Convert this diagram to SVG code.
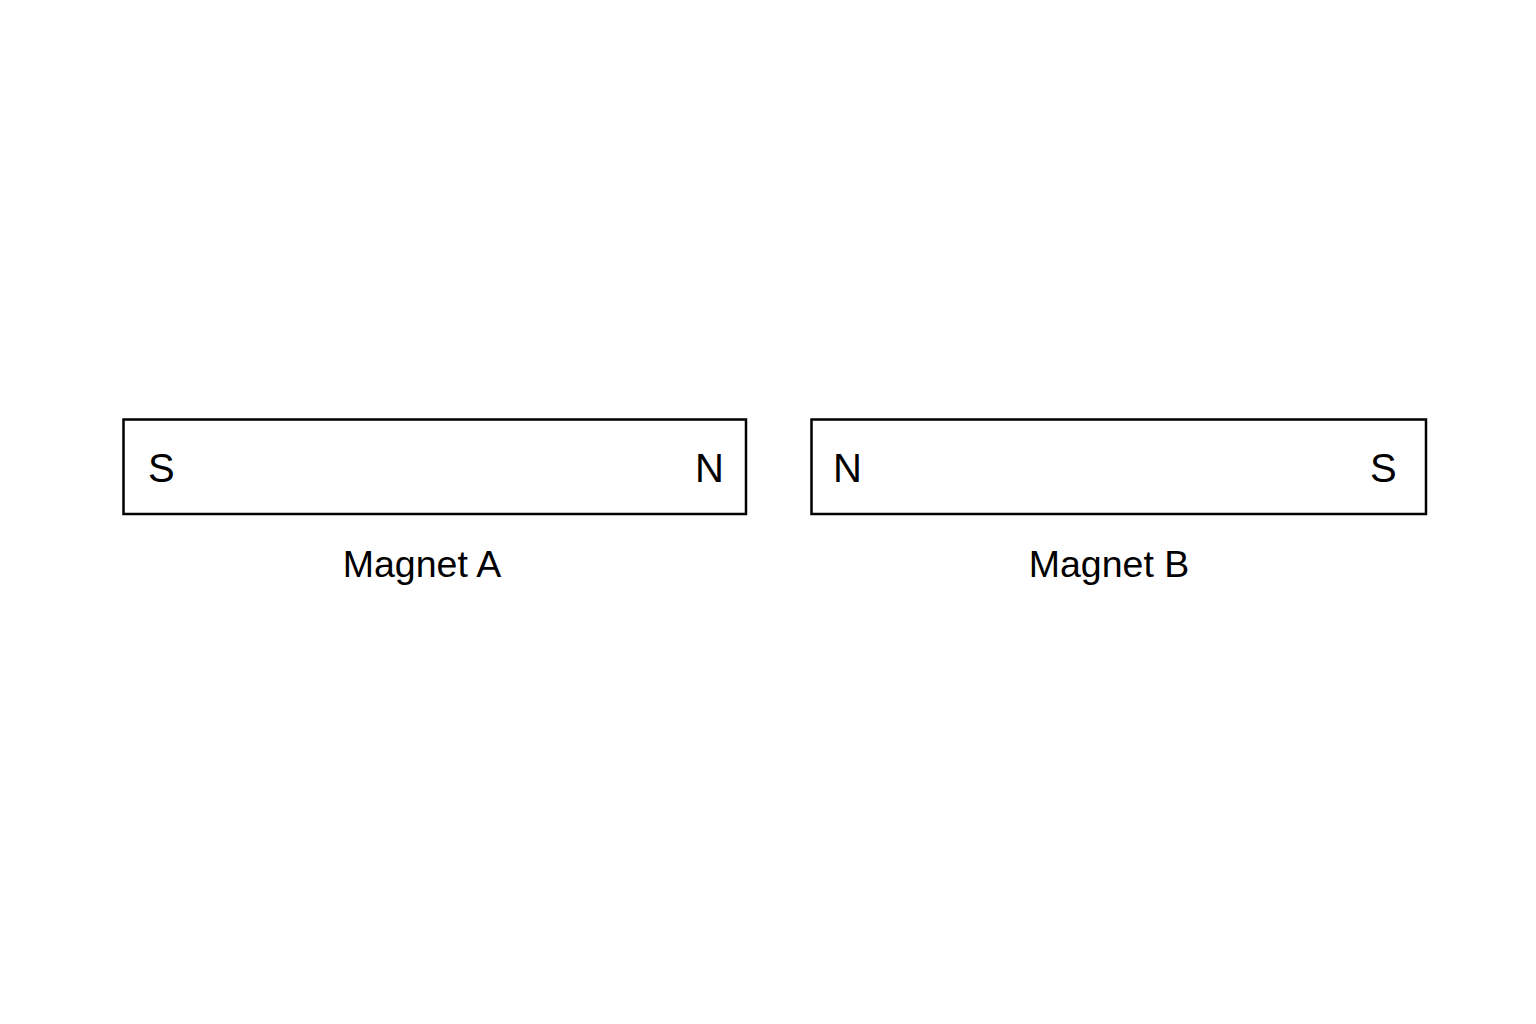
<svg xmlns="http://www.w3.org/2000/svg" width="1536" height="1024" viewBox="0 0 1536 1024">
<style>
.mag{fill:#fff;stroke:#000;stroke-width:2.5}
.pole{font-family:"Liberation Sans",Arial,sans-serif;font-size:40px;fill:#000}
.lbl{font-family:"Liberation Sans",Arial,sans-serif;font-size:37.5px;fill:#000;text-anchor:middle}
</style>
<rect width="1536" height="1024" fill="#fff"/>
<g id="magnetA">
<rect class="mag" x="123.5" y="419.5" width="622.5" height="94.5"/>
<text class="pole" x="148" y="482">S</text>
<text class="pole" x="695" y="482">N</text>
<text class="lbl" x="422" y="577">Magnet A</text>
</g>
<g id="magnetB">
<rect class="mag" x="811.5" y="419.5" width="614.5" height="94.5"/>
<text class="pole" x="833" y="482">N</text>
<text class="pole" x="1370" y="482">S</text>
<text class="lbl" x="1109" y="577">Magnet B</text>
</g>
<g id="connectors"></g>
</svg>
